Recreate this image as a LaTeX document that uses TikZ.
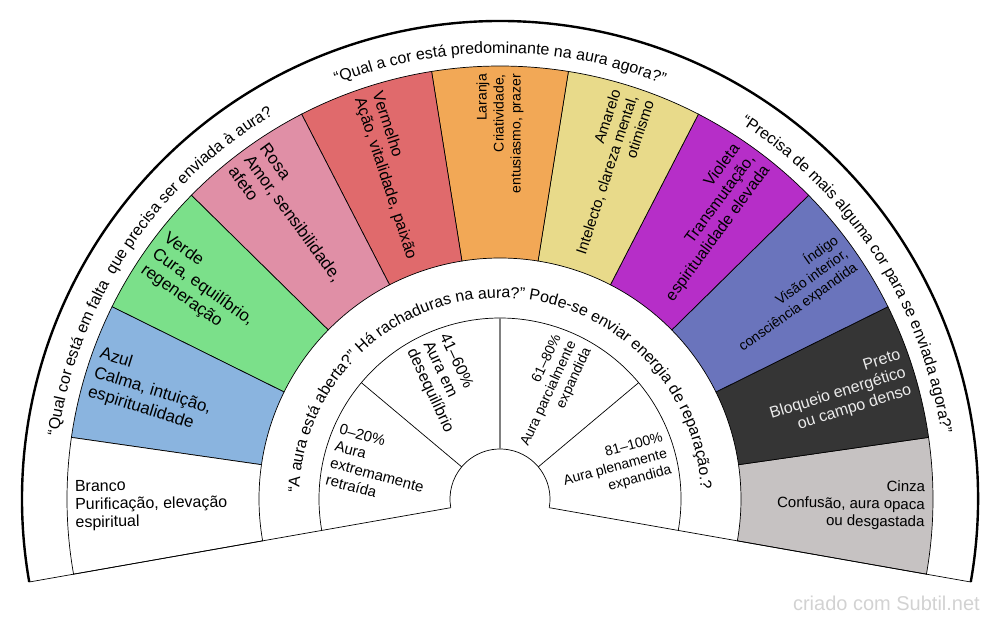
\documentclass[tikz,border=0pt]{standalone}
\usepackage{fontspec}
\setmainfont{Liberation Sans}
\usetikzlibrary{decorations.text}
\definecolor{branco}{HTML}{FFFFFF}
\definecolor{azul}{HTML}{8AB4DF}
\definecolor{verde}{HTML}{7BE08A}
\definecolor{rosa}{HTML}{E08FA6}
\definecolor{vermelho}{HTML}{E06A6C}
\definecolor{laranja}{HTML}{F2A856}
\definecolor{amarelo}{HTML}{E8DA8A}
\definecolor{violeta}{HTML}{B62EC8}
\definecolor{indigo}{HTML}{6A74BC}
\definecolor{preto}{HTML}{353535}
\definecolor{cinza}{HTML}{C6C2C2}
\definecolor{marca}{HTML}{D2D2D2}
\begin{document}
\begin{tikzpicture}[x=1pt,y=1pt,
  borda/.style={draw=black, line width=0.7pt},
  rotulo/.style={inner sep=0pt},
  rdir/.style={rotulo, align=right, anchor=east},
  resq/.style={rotulo, align=left, anchor=west}]
\useasboundingbox (-500,-124) rectangle (500,499);
% anel das cores
\filldraw[fill=cinza, borda] (-10:241) arc[start angle=-10, end angle=8.1818, radius=241pt] -- (8.1818:433) arc[start angle=8.1818, end angle=-10, radius=433pt] -- cycle;
\filldraw[fill=preto, borda] (8.1818:241) arc[start angle=8.1818, end angle=26.3636, radius=241pt] -- (26.3636:433) arc[start angle=26.3636, end angle=8.1818, radius=433pt] -- cycle;
\filldraw[fill=indigo, borda] (26.3636:241) arc[start angle=26.3636, end angle=44.5455, radius=241pt] -- (44.5455:433) arc[start angle=44.5455, end angle=26.3636, radius=433pt] -- cycle;
\filldraw[fill=violeta, borda] (44.5455:241) arc[start angle=44.5455, end angle=62.7273, radius=241pt] -- (62.7273:433) arc[start angle=62.7273, end angle=44.5455, radius=433pt] -- cycle;
\filldraw[fill=amarelo, borda] (62.7273:241) arc[start angle=62.7273, end angle=80.9091, radius=241pt] -- (80.9091:433) arc[start angle=80.9091, end angle=62.7273, radius=433pt] -- cycle;
\filldraw[fill=laranja, borda] (80.9091:241) arc[start angle=80.9091, end angle=99.0909, radius=241pt] -- (99.0909:433) arc[start angle=99.0909, end angle=80.9091, radius=433pt] -- cycle;
\filldraw[fill=vermelho, borda] (99.0909:241) arc[start angle=99.0909, end angle=117.2727, radius=241pt] -- (117.2727:433) arc[start angle=117.2727, end angle=99.0909, radius=433pt] -- cycle;
\filldraw[fill=rosa, borda] (117.2727:241) arc[start angle=117.2727, end angle=135.4545, radius=241pt] -- (135.4545:433) arc[start angle=135.4545, end angle=117.2727, radius=433pt] -- cycle;
\filldraw[fill=verde, borda] (135.4545:241) arc[start angle=135.4545, end angle=153.6364, radius=241pt] -- (153.6364:433) arc[start angle=153.6364, end angle=135.4545, radius=433pt] -- cycle;
\filldraw[fill=azul, borda] (153.6364:241) arc[start angle=153.6364, end angle=171.8182, radius=241pt] -- (171.8182:433) arc[start angle=171.8182, end angle=153.6364, radius=433pt] -- cycle;
\filldraw[fill=branco, borda] (171.8182:241) arc[start angle=171.8182, end angle=190, radius=241pt] -- (190:433) arc[start angle=190, end angle=171.8182, radius=433pt] -- cycle;
% anel das percentagens
\draw[borda] (-10:50) arc[start angle=-10, end angle=190, radius=50pt];
\draw[borda] (-10:181) arc[start angle=-10, end angle=190, radius=181pt];
\draw[borda] (40:50) -- (40:181);
\draw[draw=gray, line width=1.2pt] (90:50) -- (90:181);
\draw[borda] (140:50) -- (140:181);
% bordas exteriores
\draw[borda] (-10:50) -- (-10:478);
\draw[borda] (190:50) -- (190:478);
\draw[line width=2.4pt] (-10:478) arc[start angle=-10, end angle=190, radius=478pt];
% textos das cores
\node[rdir, font=\fontsize{15}{17.5}\selectfont, rotate=-0.9091] (cor0) at (-0.9091:425) {Cinza\\Confusão, aura opaca\\ou desgastada};
\node[rdir, font=\fontsize{16}{18.5}\selectfont, rotate=17.2727, text=black!8] (cor1) at (17.2727:425) {Preto\\Bloqueio energético\\ou campo denso};
\node[rdir, font=\fontsize{14}{16.5}\selectfont, rotate=35.4545] (cor2) at (35.4545:425) {Índigo\\Visão interior,\\consciência expandida};
\node[rdir, font=\fontsize{16}{18.5}\selectfont, rotate=53.6364] (cor3) at (53.6364:425) {Violeta\\Transmutação,\\espiritualidade elevada};
\node[rdir, font=\fontsize{15}{17.5}\selectfont, rotate=71.8182] (cor4) at (71.8182:425) {Amarelo\\Intelecto, clareza mental,\\otimismo};
\node[rdir, font=\fontsize{14}{17}\selectfont, rotate=90] (cor5) at (90:425) {Laranja\\Criatividade,\\entusiasmo, prazer};
\node[resq, font=\fontsize{16}{18.5}\selectfont, rotate=-71.8182] (cor6) at (108.1818:425) {Vermelho\\Ação, vitalidade, paixão};
\node[resq, font=\fontsize{17}{19.5}\selectfont, rotate=-53.6364] (cor7) at (126.3636:425) {Rosa\\Amor, sensibilidade,\\afeto};
\node[resq, font=\fontsize{17}{19.5}\selectfont, rotate=-35.4545] (cor8) at (144.5455:425) {Verde\\Cura, equilíbrio,\\regeneração};
\node[resq, font=\fontsize{17}{20}\selectfont, rotate=-17.2727] (cor9) at (162.7273:425) {Azul\\Calma, intuição,\\espiritualidade};
\node[resq, font=\fontsize{16}{18}\selectfont, rotate=0.9091] (cor10) at (180.9091:425) {Branco\\Purificação, elevação\\espiritual};
% textos das percentagens
\node[rdir, font=\fontsize{14}{16.5}\selectfont, rotate=15] (pct0) at (15:173) {81–100\%\\Aura plenamente\\expandida};
\node[rdir, font=\fontsize{14}{16.5}\selectfont, rotate=65] (pct1) at (65:173) {61–80\%\\Aura parcialmente\\expandida};
\node[resq, font=\fontsize{16}{18}\selectfont, rotate=-65] (pct2) at (115:173) {41–60\%\\Aura em\\desequilíbrio};
\node[resq, font=\fontsize{15}{17.5}\selectfont, rotate=-15] (pct3) at (165:173) {0–20\%\\Aura\\extremamente\\retraída};
% perguntas em arco
\path[decorate, decoration={text along path, text align=center,
  text={|\fontsize{16}{16}\selectfont|“Qual cor está em falta {\ }que precisa ser enviada à aura?}}]
  (190:446) arc[start angle=190, end angle=102.5, radius=446pt];
\path[decorate, decoration={text along path, text align=center,
  text={|\fontsize{16}{16}\selectfont|“Qual a cor está predominante na aura agora?”}}]
  (130:446) arc[start angle=130, end angle=50, radius=446pt];
\path[decorate, decoration={text along path, text align=center,
  text={|\fontsize{16}{16}\selectfont|“Precisa de mais alguma cor para se enviada agora?”}}]
  (77.9:446) arc[start angle=77.9, end angle=-12.1, radius=446pt];
\path[decorate, decoration={text along path, text align=center,
  text={|\fontsize{16}{16}\selectfont|“A aura está aberta?" Há rachaduras na aura?" Pode-se enviar energia de reparação.?}}]
  (178:201) arc[start angle=178, end angle=2.8, radius=201pt];
\node[anchor=base east, inner sep=0pt, text=marca, font=\fontsize{20}{20}\selectfont] (assinatura) at (480,-111) {criado com Subtil.net};
\end{tikzpicture}
\end{document}
